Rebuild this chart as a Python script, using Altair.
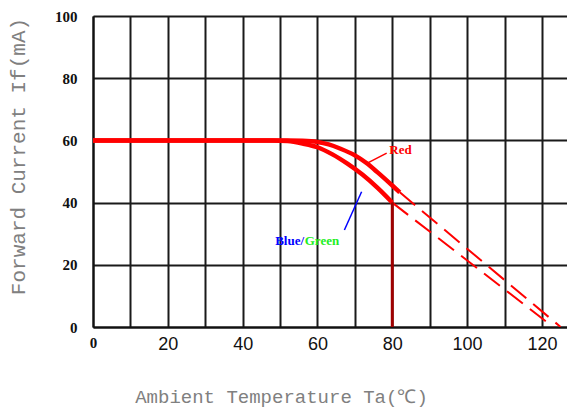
import altair as alt
import pandas as pd

# ---- data ----
red_x = [0, 52, 56, 60, 63, 66, 70, 73, 76, 80, 82]
red_y = [60, 60, 59.9, 59.5, 58.7, 57.4, 55.2, 52.8, 49.8, 45.5, 43.3]
bg_x = [0, 48, 52, 56, 60, 64, 68, 72, 76, 80]
bg_y = [60, 60, 59.8, 59.0, 57.8, 55.5, 52.5, 49.0, 44.8, 40]
red_dash_x = [82, 125]
red_dash_y = [43.3, 0]
bg_dash_x = [80, 123]
bg_dash_y = [40, 0]
limit_x = [80]
limit_y0 = [0]
limit_y1 = [40]

x_ticks = list(range(0, 121, 10))
y_ticks = [0, 20, 40, 60, 80, 100]

label_text = ["Red", "Blue/", "Green"]
label_x = [79.2, 48.7, 56.6]
label_y = [56.9, 27.7, 27.7]
label_color = ["#FF0000", "#0000FF", "#22EE22"]

leader_x = [73.2, 71.8]
leader_y = [52.6, 43.5]
leader_x2 = [78.5, 67.2]
leader_y2 = [55.9, 31.2]
leader_color = ["#FF0000", "#0000FF"]

# ---- tables ----
red_df = pd.DataFrame({"x": red_x, "y": red_y})
bg_df = pd.DataFrame({"x": bg_x, "y": bg_y})
red_dash_df = pd.DataFrame({"x": red_dash_x, "y": red_dash_y})
bg_dash_df = pd.DataFrame({"x": bg_dash_x, "y": bg_dash_y})
limit_df = pd.DataFrame({"x": limit_x, "y": limit_y0, "y2": limit_y1})
label_df = pd.DataFrame({"t": label_text, "x": label_x, "y": label_y, "c": label_color})
leader_df = pd.DataFrame({"x": leader_x, "y": leader_y, "x2": leader_x2, "y2": leader_y2, "c": leader_color})

x_scale = alt.Scale(domain=[0, 126.7], nice=False, zero=False)
y_scale = alt.Scale(domain=[0, 100], nice=False)

x_axis = alt.Axis(
    values=x_ticks, grid=True, gridColor="#1a1a1a", gridWidth=2, ticks=False,
    domain=True, domainColor="#111111", domainWidth=2,
    labelExpr="datum.value % 20 == 0 ? datum.label : ''",
    labelFont={"condition": {"test": "datum.value == 0", "value": "Liberation Serif"}, "value": "Liberation Sans"},
    labelFontWeight={"condition": {"test": "datum.value == 0", "value": "bold"}, "value": "normal"},
    labelFontSize={"condition": {"test": "datum.value == 0", "value": 15}, "value": 18},
    labelColor="#111111", labelPadding=8, labelFlush=False, labelOverlap=False,
    title="Ambient Temperature Ta(℃)", titleFont="Liberation Mono", titleFontSize=19,
    titleFontWeight="normal", titleColor="#808080", titleX=188, titleY=69,
    titleAlign="center", titleBaseline="middle",
)
y_axis = alt.Axis(
    values=y_ticks, grid=True, gridColor="#1a1a1a", gridWidth=2, ticks=False,
    domain=True, domainColor="#111111", domainWidth=2,
    labelFont="Liberation Serif", labelFontWeight="bold", labelFontSize=15,
    labelColor="#111111", labelPadding=16, labelFlush=False,
    title="Forward Current If(mA)", titleFont="Liberation Mono", titleFontSize=21,
    titleFontWeight="normal", titleColor="#808080", titleX=-75, titleY=140,
    titleAlign="center", titleBaseline="middle", titleAngle=-90,
)


def X(f="x"):
    return alt.X(f"{f}:Q", scale=x_scale, axis=x_axis, title="Ambient Temperature Ta(℃)")


def Y(f="y"):
    return alt.Y(f"{f}:Q", scale=y_scale, axis=y_axis, title="Forward Current If(mA)")


red_line = alt.Chart(red_df).mark_line(color="#FF0000", strokeWidth=4.5, interpolate="monotone").encode(x=X(), y=Y())
bg_line = alt.Chart(bg_df).mark_line(color="#FF0000", strokeWidth=4.5, interpolate="monotone").encode(x=X(), y=Y())
red_dash = alt.Chart(red_dash_df).mark_line(color="#FF0000", strokeWidth=2, strokeDash=[20, 9], clip=True).encode(x=X(), y=Y())
bg_dash = alt.Chart(bg_dash_df).mark_line(color="#FF0000", strokeWidth=2, strokeDash=[20, 9], clip=True).encode(x=X(), y=Y())
limit = alt.Chart(limit_df).mark_rule(color="#A00000", strokeWidth=3).encode(x=X(), y=Y(), y2="y2:Q")
leaders = alt.Chart(leader_df).mark_rule(strokeWidth=1.5).encode(
    x=X(), y=Y(), x2="x2:Q", y2="y2:Q", color=alt.Color("c:N", scale=None))
labels = alt.Chart(label_df).mark_text(font="Liberation Serif", fontWeight="bold", fontSize=13,
                                       align="left", baseline="middle").encode(
    x=X(), y=Y(), text="t:N", color=alt.Color("c:N", scale=None))

chart = alt.layer(red_line, bg_line, red_dash, bg_dash, limit, leaders, labels).properties(
    width=474, height=311,
    autosize=alt.AutoSizeParams(type="none"),
    padding={"left": 85, "top": 8, "right": 0, "bottom": 83},
).configure_view(stroke=None).configure(background="white")

chart.save("out.html", embed_options={"renderer": "svg", "actions": False})
